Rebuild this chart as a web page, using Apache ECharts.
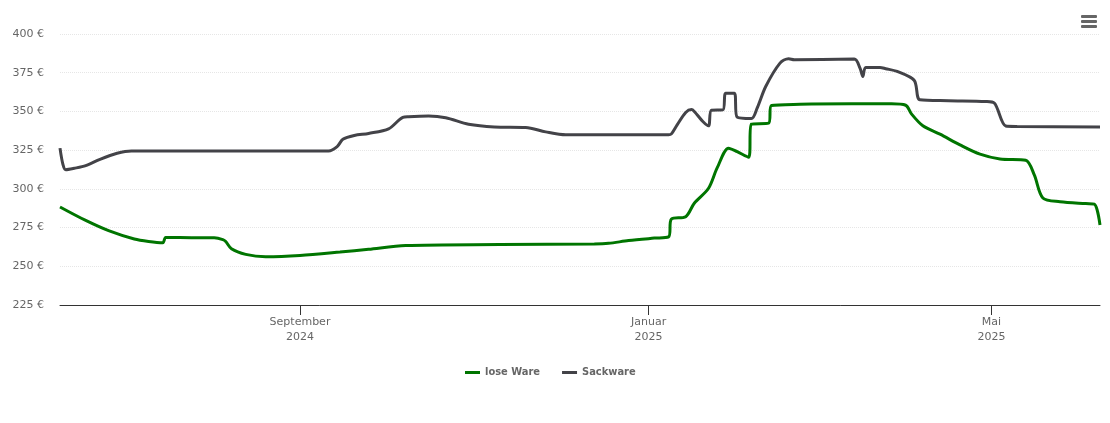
<!DOCTYPE html>
<html><head><meta charset="utf-8">
<style>html,body{margin:0;padding:0;background:#fff}#c{width:1110px;height:423px}</style>
<script src="https://cdn.jsdelivr.net/npm/echarts@6/dist/echarts.min.js"></script>
</head><body><div id="c"></div>
<script>
const seriesNames = ['lose Ware', 'Sackware'];
const tickDates = ['2024-09-01', '2025-01-01', '2025-05-01'];
const tickLabels = ['September\n2024', 'Januar\n2025', 'Mai\n2025'];
const loseWare = [
 ['2024-06-09',288.3],['2024-06-18',279.6],['2024-06-26',273],['2024-07-05',267.6],['2024-07-10',266],['2024-07-15',265.2],['2024-07-16',268.6],
 ['2024-07-25',268.5],['2024-08-02',268.4],['2024-08-05',267.2],['2024-08-06',266],['2024-08-08',261.3],['2024-08-13',257.7],['2024-08-20',256.2],
 ['2024-09-01',257],['2024-09-15',259.2],['2024-09-25',261],['2024-10-08',263.4],['2024-11-10',264],['2024-12-13',264.4],['2024-12-18',264.8],
 ['2024-12-25',266.6],['2025-01-03',268.2],['2025-01-08',269],['2025-01-09',280.5],['2025-01-14',282],['2025-01-17',290.7],['2025-01-22',300.4],
 ['2025-01-25',313.5],['2025-01-29',326.3],['2025-02-01',324],['2025-02-05',320.4],['2025-02-06',341.8],['2025-02-12',342.4],['2025-02-13',353.8],
 ['2025-02-23',354.6],['2025-03-13',354.9],['2025-03-27',354.9],['2025-04-01',354],['2025-04-03',348.4],['2025-04-07',340.7],
 ['2025-04-13',335.3],['2025-04-20',328.4],['2025-04-27',322.4],['2025-05-04',319.3],['2025-05-13',318.5],['2025-05-16',309],['2025-05-19',294.1],
 ['2025-05-25',291.7],['2025-06-03',290.5],['2025-06-06',290.2],['2025-06-08',276.7]
];
const sackware = [
 ['2024-06-09',326.3],['2024-06-10',316],['2024-06-11',312.4],['2024-06-14',313.3],['2024-06-18',315],['2024-06-23',319.1],['2024-06-29',323],['2024-07-04',324.5],
 ['2024-08-01',324.5],['2024-09-11',324.5],['2024-09-14',327.3],['2024-09-16',332],['2024-09-20',334.5],['2024-09-25',335.8],['2024-10-02',338.7],
 ['2024-10-07',346.2],['2024-10-09',346.6],['2024-10-16',347],['2024-10-22',345.9],['2024-10-30',341.7],['2024-11-08',340],['2024-11-19',339.7],
 ['2024-11-26',336.8],['2024-12-03',334.9],['2024-12-15',334.9],['2025-01-08',334.9],['2025-01-09',335.5],['2025-01-11',341.3],['2025-01-14',349.3],
 ['2025-01-16',351.2],['2025-01-17',350],['2025-01-20',343.5],['2025-01-22',340.7],['2025-01-23',350.8],['2025-01-27',351],['2025-01-28',361.8],
 ['2025-01-31',361.8],['2025-02-01',346.3],['2025-02-06',345.4],['2025-02-08',352.1],['2025-02-11',366.1],['2025-02-16',381.2],['2025-02-19',384],
 ['2025-02-21',383.4],['2025-03-14',383.8],['2025-03-16',378],['2025-03-17',372.6],['2025-03-18',378.4],['2025-03-23',378.4],['2025-03-25',377.6],
 ['2025-03-29',375.8],['2025-04-04',370],['2025-04-06',357.5],['2025-04-16',356.9],['2025-04-29',356.4],['2025-05-02',355.4],['2025-05-06',340.6],['2025-05-10',340.3],['2025-06-08',340]
];
const colors = ['#007500', '#434348'];
const font = '"DejaVu Sans", sans-serif';
const parse = s => +echarts.time.parse(s);
const tickValues = tickDates.map(parse);
const chart = echarts.init(document.getElementById('c'), null, {renderer:'canvas'});
const mkSeries = (name, data, color) => ({
  name, type:'line', data:data.map(d=>[parse(d[0]),d[1]]), showSymbol:false, symbol:'none', smooth:0.3,
  lineStyle:{color, width:3}, itemStyle:{color}
});
chart.setOption({
  animation:false,
  backgroundColor:'#fff',
  grid:{left:60, right:10, top:34, height:271},
  legend:{
    data:seriesNames, top:362, left:460, itemWidth:15, itemHeight:3, itemGap:22, icon:'rect',
    textStyle:{color:'#666', fontFamily:'"DejaVu Sans Condensed", "Liberation Sans", sans-serif', fontWeight:'bold', fontSize:11}
  },
  xAxis:{
    type:'value', min:parse('2024-06-09'), max:parse('2025-06-08'),
    splitLine:{show:false},
    axisLine:{onZero:false, lineStyle:{color:'#333', width:1}},
    axisTick:{show:true, length:10, customValues:tickValues, lineStyle:{color:'#333'}},
    axisLabel:{
      customValues:tickValues, margin:10, color:'#666', fontFamily:font, fontSize:11, lineHeight:15, align:'center', hideOverlap:false,
      formatter:v => tickLabels[tickValues.indexOf(+v)] || ''
    }
  },
  yAxis:{
    type:'value', min:225, max:400, interval:25,
    axisLine:{show:false}, axisTick:{show:false},
    splitLine:{lineStyle:{color:'#e6e6e6', type:[1,1], width:1}},
    axisLabel:{color:'#666', fontFamily:font, fontSize:11, margin:16, formatter:'{value} €'}
  },
  series:[mkSeries(seriesNames[0], loseWare, colors[0]), mkSeries(seriesNames[1], sackware, colors[1])],
  graphic:[{type:'group', left:1081, top:15, children:[0,5,10].map(y=>({
    type:'rect', shape:{x:0,y,width:16,height:3,r:1}, style:{fill:'#666'}
  }))}]
});
</script>
</body></html>
